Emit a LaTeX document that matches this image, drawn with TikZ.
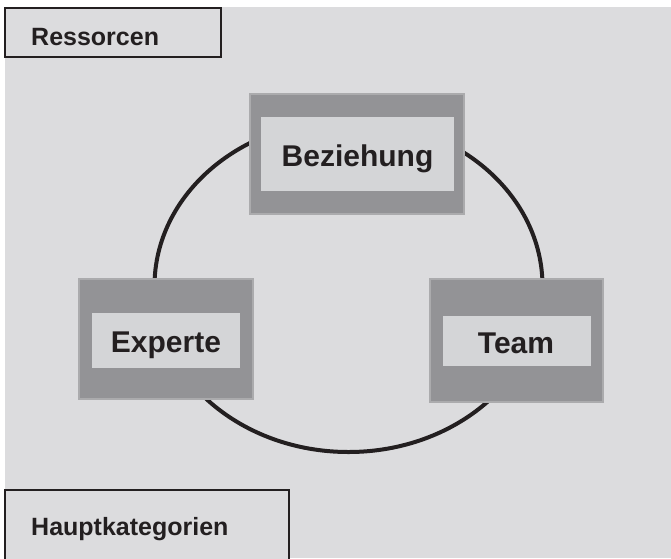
\documentclass[tikz,border=0pt]{standalone}
\usepackage{fontspec}
\setmainfont{Liberation Sans}
\definecolor{bg}{HTML}{DCDCDE}
\definecolor{outerfill}{HTML}{939396}
\definecolor{outerline}{HTML}{ABABAD}
\definecolor{innerfill}{HTML}{D4D5D7}
\definecolor{ink}{HTML}{231F20}
\tikzset{
  outerbox/.style={draw=outerline, fill=outerfill, line width=2pt, inner sep=0pt},
  innerbox/.style={fill=innerfill, draw=none, inner sep=0pt},
  bigtext/.style={font=\fontsize{30}{30}\selectfont\bfseries, text=ink, inner sep=0pt, anchor=base},
  labelbox/.style={draw=ink, fill=bg, line width=2pt, inner sep=0pt},
  labeltext/.style={font=\fontsize{25}{25}\selectfont\bfseries, text=ink, inner sep=0pt, anchor=base west},
}
\begin{document}
\begin{tikzpicture}[x=1pt,y=-1pt]
\useasboundingbox (0,0) rectangle (671,558);
\clip (0,0) rectangle (671,558);
\fill[bg] (5,7) rectangle (671,558);
% cycle
\draw[ink, line width=4pt] (348.5,286) ellipse [x radius=194, y radius=166];
% Beziehung
\node[outerbox, minimum width=214pt, minimum height=120pt] (bezo) at (357,154) {};
\node[innerbox, minimum width=193pt, minimum height=74pt] (bezi) at (357.5,154) {};
\node[bigtext] (bezt) at (357.5,166.5) {Beziehung};
% Experte
\node[outerbox, minimum width=174pt, minimum height=120pt] (expo) at (166,339) {};
\node[innerbox, minimum width=148pt, minimum height=55pt] (expi) at (166,340.5) {};
\node[bigtext] (expt) at (166,352.5) {Experte};
% Team
\node[outerbox, minimum width=173pt, minimum height=123pt] (teamo) at (516.5,340.5) {};
\node[innerbox, minimum width=148pt, minimum height=50pt] (teami) at (517,341) {};
\node[bigtext] (teamt) at (516,353.5) {Team};
% Ressorcen
\node[labelbox, minimum width=216pt, minimum height=49pt] (reso) at (113,32.5) {};
\node[labeltext] (rest) at (31,45) {Ressorcen};
% Hauptkategorien
\node[labelbox, minimum width=284pt, minimum height=90pt] (hauo) at (147,535) {};
\node[labeltext] (haut) at (31,535) {Hauptkategorien};
\end{tikzpicture}
\end{document}
